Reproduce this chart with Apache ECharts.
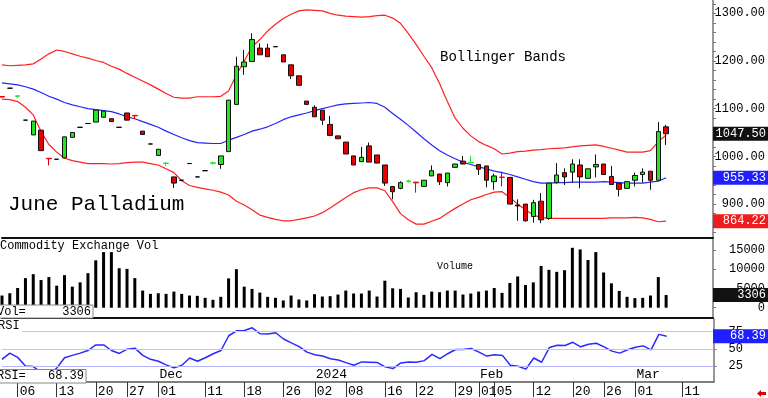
<!DOCTYPE html>
<html>
<head>
<meta charset="utf-8">
<script src="https://cdn.jsdelivr.net/npm/echarts@6.0.0/dist/echarts.min.js"></script>
<style>
  html, body { margin: 0; padding: 0; background: #fff; }
  #chart { width: 768px; height: 398px; }
</style>
</head>
<body>
<div id="chart"></div>
<script>
// trading days (last six are empty slots on the right)
const dates = [
  '2023-11-02','2023-11-03','2023-11-06','2023-11-07','2023-11-08','2023-11-09','2023-11-10',
  '2023-11-13','2023-11-14','2023-11-15','2023-11-16','2023-11-17','2023-11-20','2023-11-21',
  '2023-11-22','2023-11-24','2023-11-27','2023-11-28','2023-11-29','2023-11-30',
  '2023-12-01','2023-12-04','2023-12-05','2023-12-06','2023-12-07','2023-12-08','2023-12-11',
  '2023-12-12','2023-12-13','2023-12-14','2023-12-15','2023-12-18','2023-12-19','2023-12-20',
  '2023-12-21','2023-12-22','2023-12-26','2023-12-27','2023-12-28','2023-12-29',
  '2024-01-02','2024-01-03','2024-01-04','2024-01-05','2024-01-08','2024-01-09','2024-01-10',
  '2024-01-11','2024-01-12','2024-01-16','2024-01-17','2024-01-18','2024-01-19','2024-01-22',
  '2024-01-23','2024-01-24','2024-01-25','2024-01-26','2024-01-29','2024-01-30','2024-01-31',
  '2024-02-01','2024-02-02','2024-02-05','2024-02-06','2024-02-07','2024-02-08','2024-02-09',
  '2024-02-12','2024-02-13','2024-02-14','2024-02-15','2024-02-16','2024-02-20','2024-02-21',
  '2024-02-22','2024-02-23','2024-02-26','2024-02-27','2024-02-28','2024-02-29',
  '2024-03-01','2024-03-04','2024-03-05','2024-03-06','2024-03-07','2024-03-08','2024-03-11',
  '2024-03-12','2024-03-13','2024-03-14','2024-03-15'
];

const open = [
  1125.5,1143,1126,1076,1045,1055,996,994,997,1040,
  1061,1069,1072,1082,1079,1061,1091,1086,1053,1026,
  1002,985,957,950,985,957,970,985.5,983,1010,
  1109,1188,1199,1227,1227,1230,1213,1192,1169,1116,
  1103,1097,1067,1043,1030,1001,989,1022,1003,982,
  937,933,947.5,946,937,959,963,945,977,990,
  986.5,983,980,947,956.5,956,898,900,874,906,
  870,945,966,967,982,954,978,984,958,944,
  933,950,962,969,950,1062
];
const high = [
  1126,1143,1127,1076,1074,1055,996,994,1041,1050,
  1061,1069,1097,1095,1079,1061,1091,1086,1053,1026,
  1015,987,957,950,985,957,970,989,1001,1118,
  1209,1223,1258,1237,1236,1230,1213,1192,1169,1116,
  1107,1097,1085,1043,1030,1001,1020,1029,1003,982,
  937,948,951,946,950,981,963,965,984,1001,
  1001,983,980,964,968,956,910,900,909,923,
  945,986,975,994,994,974,1004,984,980,944,
  947,966,975,969,1072,1066
];
const low = [
  1124,1143,1122,1076,1045,1012,981,994,997,1040,
  1061,1069,1072,1082,1073,1061,1076,1078,1046,1026,
  1002,980,934,950,985,957,970,983,974,1010,
  1109,1171,1199,1213,1209,1230,1198,1162,1149,1109,
  1083,1066,1044,1037,1005,982,989,988,986,938,
  910,931,945,924,937,959,940,937,977,984,
  986,961,935,930,937,900,865,863,861,860,
  867,943,940,945,933,954,956,962,941,916,
  933,937,945,930,950,1024
];
const close = [
  1124.5,1143,1127,1076,1074,1012,995,994,1041,1050,
  1061,1069,1097,1095,1073,1061,1076,1085,1046,1026,
  1015,986,944,950,985,957,970,986.5,1001,1118,
  1189,1198,1245,1213,1209,1230,1198,1169,1149,1109,
  1083,1076,1044,1037,1005,982,998,988,986,944,
  926,945,948.5,944.5,950,970,947,965,984,984,
  987.5,973,950,959,956,900,896,865,903,867,
  944,961,957,984,957,974,983,962,941,931,
  947,960,967,950,1052,1047.5
];

const bbUpper = [
  1192,1190,1191,1192,1194,1204,1215,1223,1220,1215,
  1210,1206,1201,1197,1189,1183,1174,1166,1158,1150,
  1141,1132,1124,1122,1122,1125,1125,1125,1126,1137,
  1171,1200,1230,1245,1263,1277,1289,1298,1305,1307,
  1306,1305,1300,1296,1294,1293,1292,1293,1295,1296,
  1290,1279,1258,1235,1210,1186,1153,1115,1080,1059,
  1043,1031,1023,1016,1005,1007,1010,1011,1013,1014,
  1016,1017,1018,1020,1022,1023,1024,1021,1017,1013,
  1009,1009,1009,1012,1031,1045
];
const bbMiddle = [
  1154,1152,1150,1146,1141,1134,1126,1120,1113,1108,
  1104,1100,1098,1096,1094,1089,1083,1079,1073,1067,
  1061,1053,1046,1039,1033,1029,1028,1027,1027,1034,
  1040,1046,1053,1057,1062,1069,1077,1083,1087,1091,
  1096,1100,1104,1108,1110,1111,1112,1113,1111,1103,
  1090,1078,1065,1051,1037,1024,1012,1003,995,988,
  983,978,974,969,966,962,957,952,947,944,
  944,945,945,946,946,946,946,947,946,945,
  944,944,944,946,948,955.33
];
const bbLower = [
  1120,1119,1115,1103,1087,1052,1025,1009,996,991,
  988,985,985,985,984,985,987,988,988,985,
  982,974,966,949,939,935,932,929,925,919,
  906,898,888,877,872,868,865,865,868,871,
  875,882,892,903,914,924,930,934,934,928,
  905,880,867,858,858,864,870,881,891,900,
  909,914,920,925,926,914,900,888,877,872,
  870,870,870,870,870,870,870,870,871,871,
  871,872,871,868,863,864.22
];

const volume = [
  3170,3770,5140,7710,8740,7200,7970,5740,8480,5490,
  6600,9000,12340,14480,14480,10280,10110,7710,4460,3600,
  3770,3600,4200,3600,3170,3090,2570,2060,2830,7630,
  10030,5490,4890,3940,2830,2570,1890,3170,2140,1890,
  3510,2910,3000,3430,4460,3690,3690,4460,2910,7030,
  5060,4890,2660,4030,3340,4200,4030,4460,4460,3430,
  3690,4200,4460,5140,3860,6430,8140,5910,6600,10880,
  9860,9340,9770,15600,15170,12430,14480,9170,6340,4370,
  2830,2490,2570,3170,7970,3306
];

const rsi = [
  34.8,43.8,37.6,25.2,24.3,16,13,22,37.1,40.5,
  43.8,47.6,55.7,55.7,47.6,43.3,49.5,51,40.5,34.8,
  31.9,26.7,22.4,26.2,36.7,31.9,37.1,42.9,47.6,69,
  76.2,76.7,80.5,71.9,71.4,73.3,64.3,58.6,53.3,45.2,
  41.4,39.5,35.7,33.8,30,26.2,31,30.5,30,23.8,
  21.4,29.5,31,30.5,32.9,41.9,35.7,42.9,49,49,
  50.5,45.2,39.5,41.4,40.5,26.2,24.8,20.5,36.7,30.5,
  51.9,55.2,54.8,59.5,52.9,56.7,58.1,52.9,46.7,43.8,
  48.6,52.4,54.3,48.6,71,68.39
];

// axis labels
const dayTickDates = [
  '2023-11-06','2023-11-13','2023-11-20','2023-11-27','2023-12-01','2023-12-11','2023-12-18',
  '2023-12-26','2024-01-02','2024-01-08','2024-01-16','2024-01-22','2024-01-29','2024-02-01',
  '2024-02-05','2024-02-12','2024-02-20','2024-02-26','2024-03-01','2024-03-11'
];
const monthDates = ['2023-12-01','2024-01-02','2024-02-01','2024-03-01'];
const monthNames = ['Dec','2024','Feb','Mar'];
const priceLabels = [900,1000,1100,1200,1300];
const priceTicks = [840,860,880,900,920,940,960,980,1000,1020,1040,1060,1080,1100,1120,1140,1160,1180,1200,1220,1240,1260,1280,1300,1320];
const volumeLabels = [0,5000,10000,15000];
const rsiLabels = [25,50,75];

const FONT = '"Liberation Mono", "DejaVu Sans Mono", monospace';
const UP = '#22e622';
const DOWN = '#e80000';
const L = 2, R = 54.4;

const candles = open.map((o, i) => {
  const c = close[i];
  const item = { value: [o, c, low[i], high[i]] };
  if (o === c) {
    item.itemStyle = { color: '#000', color0: '#000', borderColor: '#000', borderColor0: '#000' };
  } else if (Math.abs(o - c) < 2) {
    const col = c > o ? UP : DOWN;
    item.itemStyle = { borderColor: col, borderColor0: col };
  }
  return item;
});

const chart = echarts.init(document.getElementById('chart'));

function catAxis(grid, extra) {
  return Object.assign({
    type: 'category', gridIndex: grid, data: dates, boundaryGap: false,
    axisLine: { show: true, onZero: false, lineStyle: { color: '#111', width: 2 } },
    axisTick: { show: false }, axisLabel: { show: false }, splitLine: { show: false }
  }, extra || {});
}

function rightAxis(grid, min, max, labels, ticks, fmt, align, margin) {
  return {
    type: 'value', gridIndex: grid, position: 'right', min: min, max: max,
    splitLine: { show: false },
    axisLine: { show: true, lineStyle: { color: '#777', width: 1.5 } },
    axisTick: { show: true, customValues: ticks, length: 3, lineStyle: { color: '#777' } },
    axisLabel: {
      customValues: labels, formatter: fmt, align: align, margin: margin,
      fontFamily: FONT, fontSize: 12, color: '#000'
    }
  };
}

const option = {
  animation: false,
  backgroundColor: '#fff',
  grid: [
    { left: L, right: R, top: 0, height: 238 },
    { left: L, right: R, top: 239, height: 79 },
    { left: L, right: R, top: 319, height: 64 }
  ],
  xAxis: [
    catAxis(0),
    catAxis(1),
    catAxis(2, {
      position: 'bottom',
      axisLine: { show: true, onZero: false, lineStyle: { color: '#555', width: 1.5 } },
      axisTick: {
        show: true, length: 15, lineStyle: { color: '#333', width: 1 },
        interval: (idx, val) => dayTickDates.indexOf(val) >= 0
      },
      axisLabel: {
        show: true, margin: 3, align: 'left', padding: [0, 0, 0, 2],
        fontFamily: FONT, fontSize: 13, color: '#000',
        interval: (idx, val) => dayTickDates.indexOf(val) >= 0,
        formatter: v => v.slice(8)
      }
    }),
    catAxis(2, {
      position: 'bottom', offset: 0,
      axisLine: { show: false },
      axisLabel: {
        show: true, inside: true, margin: 1, align: 'left', padding: [0, 0, 0, 1],
        fontFamily: FONT, fontSize: 13, color: '#000',
        interval: (idx, val) => monthDates.indexOf(val) >= 0,
        formatter: v => monthNames[monthDates.indexOf(v)]
      }
    })
  ],
  yAxis: [
    rightAxis(0, 828.9, 1327.9, priceLabels, priceTicks, v => v.toFixed(2), 'right', 52),
    rightAxis(1, -2682, 17891, volumeLabels, [0, 5000, 10000, 15000], v => String(v), 'right', 52),
    rightAxis(2, 1.86, 93.3, rsiLabels, rsiLabels, v => String(v), 'left', 15)
  ],
  series: [
    {
      type: 'line', name: 'Upper', xAxisIndex: 0, yAxisIndex: 0, data: bbUpper,
      symbol: 'none', lineStyle: { color: '#ff2020', width: 1.2 }, z: 2
    },
    {
      type: 'line', name: 'Middle', xAxisIndex: 0, yAxisIndex: 0, data: bbMiddle,
      symbol: 'none', lineStyle: { color: '#2424ff', width: 1.2 }, z: 2
    },
    {
      type: 'line', name: 'Lower', xAxisIndex: 0, yAxisIndex: 0, data: bbLower,
      symbol: 'none', lineStyle: { color: '#ff2020', width: 1.2 }, z: 2
    },
    {
      type: 'candlestick', name: 'June Palladium', xAxisIndex: 0, yAxisIndex: 0,
      data: candles, barWidth: 5, z: 3,
      itemStyle: { color: UP, color0: DOWN, borderColor: '#111', borderColor0: '#111', borderWidth: 1 }
    },
    {
      type: 'bar', name: 'Volume', xAxisIndex: 1, yAxisIndex: 1, data: volume,
      barWidth: 3, itemStyle: { color: '#000' }
    },
    {
      type: 'line', name: 'RSI', xAxisIndex: 2, yAxisIndex: 2, data: rsi,
      symbol: 'none', lineStyle: { color: '#2a2aff', width: 1.5 }, z: 3,
      markLine: {
        silent: true, symbol: 'none', label: { show: false },
        data: [
          { yAxis: 75, lineStyle: { color: '#ffb4b4', width: 1, type: 'solid' } },
          { yAxis: 50, lineStyle: { color: '#c8c8c8', width: 1, type: 'solid' } },
          { yAxis: 25, lineStyle: { color: '#b4b4ff', width: 1, type: 'solid' } }
        ]
      }
    }
  ]
};

chart.setOption(option);

function txt(text, x, y, size, align, extra, z) {
  return {
    type: 'text', z: z || 100,
    style: Object.assign({
      text: text, x: x, y: y, fill: '#000',
      font: size + 'px ' + FONT,
      align: align || 'left', textAlign: align || 'left',
      verticalAlign: 'middle', textVerticalAlign: 'middle'
    }, extra || {})
  };
}

function tag(axis, value, text, bg) {
  const y = chart.convertToPixel({ yAxisIndex: axis }, value);
  return [
    { type: 'rect', z: 110, shape: { x: 713, y: y - 7, width: 55, height: 14 }, style: { fill: bg } },
    txt(text, 766, y, 12, 'right', { fill: '#fff' }, 120)
  ];
}

const last = close.length - 1;
const graphic = [
  txt('June Palladium', 8, 204, 21),
  txt('Bollinger Bands', 440, 57, 14),
  txt('Commodity Exchange Vol', 0, 246, 12),
  txt('Volume', 437, 266, 10),
  { type: 'rect', z: 99, shape: { x: 0, y: 320, width: 22, height: 12 }, style: { fill: '#fff' } },
  txt('RSI', -2, 326, 12),
  { type: 'rect', z: 99, shape: { x: -1, y: 305, width: 94, height: 13 }, style: { fill: '#fff', stroke: '#888', lineWidth: 1 } },
  txt('Vol=', -3, 311.5, 12),
  txt(String(volume[last]), 91, 311.5, 12, 'right'),
  { type: 'rect', z: 99, shape: { x: -1, y: 369.5, width: 87, height: 13.5 }, style: { fill: '#fff', stroke: '#888', lineWidth: 1 } },
  txt('RSI=', -3, 376, 12),
  txt(rsi[last].toFixed(2), 84, 376, 12, 'right'),
  {
    type: 'polygon', z: 100,
    shape: { points: [[757, 393.5], [761, 390], [761, 392], [766, 392], [766, 395], [761, 395], [761, 397]] },
    style: { fill: '#e00000' }
  }
].concat(
  tag(0, close[last], close[last].toFixed(2), '#111'),
  tag(0, bbMiddle[last], bbMiddle[last].toFixed(2), '#2020ff'),
  tag(0, bbLower[last], bbLower[last].toFixed(2), '#ee1c1c'),
  tag(1, volume[last], String(volume[last]), '#111'),
  tag(2, rsi[last], rsi[last].toFixed(2), '#2020ff')
);

chart.setOption({ graphic: graphic });
</script>
</body>
</html>
